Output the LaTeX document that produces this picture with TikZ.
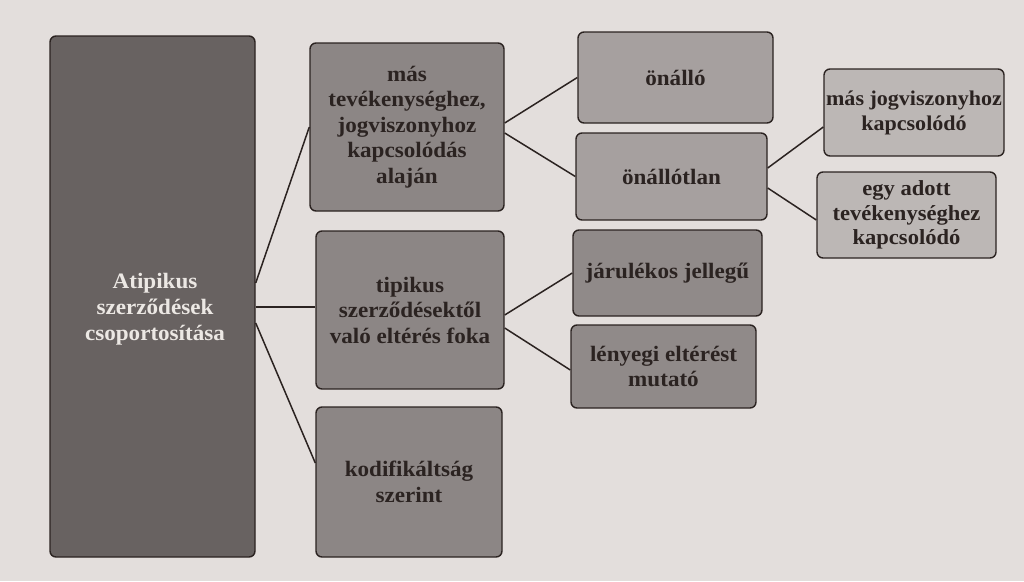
\documentclass[tikz,border=0pt]{standalone}
\usepackage{fontspec}
\setmainfont{Liberation Serif}[FakeStretch=1.05]
\usetikzlibrary{calc}
\definecolor{bgpage}{HTML}{E3DEDC}
\definecolor{cmain}{HTML}{686261}
\definecolor{cmid}{HTML}{8C8685}
\definecolor{clight}{HTML}{A6A09F}
\definecolor{cmid2}{HTML}{908A89}
\definecolor{cpale}{HTML}{BCB7B5}
\definecolor{ink}{HTML}{2B2321}
\definecolor{maintext}{HTML}{ECE8E4}
\begin{document}
\begin{tikzpicture}[x=1pt,y=-1pt,
  box/.style={draw=ink, line width=1.4pt, rounded corners=6pt, inner sep=1pt,
    align=center, text=ink, font=\bfseries\fontsize{22}{25.5}\selectfont},
  conn/.style={draw=ink, line width=1.5pt}]
\fill[bgpage] (0,0) rectangle (1024,581);
\useasboundingbox (0,0) rectangle (1024,581);
\node[box, fill=cmain, minimum width=205pt, minimum height=521pt] (main) at (152.5,296.5) {};
\node[align=center, text=maintext, font=\bfseries\fontsize{22}{26}\selectfont] (mainlbl) at (155,309) {Atipikus\\szerződések\\csoportosítása};
\node[box, fill=cmid, minimum width=194pt, minimum height=168pt] (A) at (407,127) {más\\tevékenységhez,\\jogviszonyhoz\\kapcsolódás\\alaján};
\node[box, fill=cmid, minimum width=188pt, minimum height=158pt] (B) at (410,310) {tipikus\\szerződésektől\\való eltérés foka};
\node[box, fill=cmid, minimum width=186pt, minimum height=150pt] (C) at (409,482) {kodifikáltság\\szerint};
\node[box, fill=clight, minimum width=195pt, minimum height=91pt] (D) at (675.5,77.5) {önálló};
\node[box, fill=clight, minimum width=191pt, minimum height=87pt] (E) at (671.5,176.5) {önállótlan};
\node[box, fill=cmid2, minimum width=189pt, minimum height=86pt] (F) at (667.5,273) {járulékos jellegű};
\node[box, fill=cmid2, minimum width=185pt, minimum height=83pt] (G) at (663.5,366.5) {lényegi eltérést\\mutató};
\node[box, fill=cpale, minimum width=180pt, minimum height=87pt, inner sep=0pt, font=\bfseries\fontsize{21}{25}\selectfont] (H) at (914,112.5) {más jogviszonyhoz\\kapcsolódó};
\node[box, fill=cpale, minimum width=179pt, minimum height=86pt, font=\bfseries\fontsize{21.5}{24.5}\selectfont] (I) at (906.5,215) {egy adott\\tevékenységhez\\kapcsolódó};
\draw[conn] ($(main.east)+(0,-13.5)$) -- (A.west);
\draw[conn] ($(main.east)+(0,10.5)$) -- ($(B.west)+(0,-3)$);
\draw[conn] ($(main.east)+(0,26.5)$) -- ($(C.west)+(0,-19)$);
\draw[conn] ($(A.east)+(0,-4)$) -- (D.west);
\draw[conn] ($(A.east)+(0,6)$) -- (E.west);
\draw[conn] ($(E.east)+(0,-8.5)$) -- ($(H.west)+(0,14.5)$);
\draw[conn] ($(E.east)+(0,11.5)$) -- ($(I.west)+(0,5)$);
\draw[conn] ($(B.east)+(0,5)$) -- (F.west);
\draw[conn] ($(B.east)+(0,18)$) -- ($(G.west)+(0,3.5)$);
\end{tikzpicture}
\end{document}
